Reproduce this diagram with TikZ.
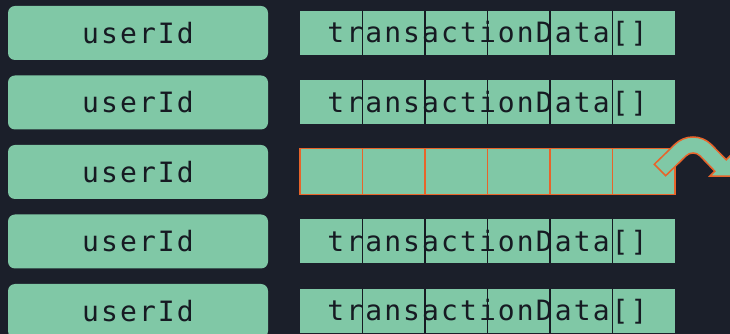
\documentclass[tikz,border=0pt]{standalone}
\usepackage{fontspec}
\usetikzlibrary{calc}
\newfontfamily\codefont[LetterSpace=7.5]{DejaVu Sans Mono}
\definecolor{bg}{HTML}{1B1F2A}
\definecolor{mint}{HTML}{80C8A6}
\definecolor{ink}{HTML}{161A22}
\definecolor{hot}{HTML}{E8642A}
\begin{document}
\begin{tikzpicture}[x=1pt,y=1pt,
  codetext/.style={font=\fontsize{28}{32}\selectfont\codefont, text=ink},
  keybox/.style={codetext, fill=mint, rounded corners=7pt, minimum width=260pt,
    minimum height=54pt, inner sep=0pt},
  cell/.style={fill=mint, minimum width=62.5pt, minimum height=44pt, inner sep=0pt, outer sep=0pt},
  hotcell/.style={cell, draw=hot, line width=1.8pt, minimum height=46pt},
  celltext/.style={codetext, inner sep=0pt, anchor=base},
  divider/.style={draw=ink, line width=1.1pt},
  jump/.style={fill=mint, draw=hot, line width=1.5pt, line join=miter}
]
% canvas
\fill[bg] (0,0) rectangle (730,334);
\useasboundingbox (0,0) rectangle (730,334);
\clip (0,0) rectangle (730,334);

% ordinary rows: key box and a six-slot array of transaction data
\foreach \r/\Y in {1/301, 2/231.5, 4/92.5, 5/23} {
  \node[keybox] (k\r) at (138,\Y) {userId};
  \foreach \j in {1,...,6}
    \node[cell] (c\r-\j) at (268.75+62.5*\j,\Y) {};
  \node[celltext] (d\r) at ($(c\r-3.east)+(0,-10)$) {transactionData[]};
  \foreach \j in {1,...,5}
    \draw[divider] (c\r-\j.north east) -- (c\r-\j.south east);
}

% highlighted row: empty slots outlined in orange
\node[keybox] (k3) at (138,162) {userId};
\foreach \j in {1,...,6}
  \node[hotcell] (c3-\j) at (268.75+62.5*\j,162.5) {};

% curved jump arrow leaving the highlighted array
\draw[jump] (654.3,169.7) -- (674.6,189.4)
  arc[start angle=135, end angle=45, radius=26]
  -- (726.2,174.2) -- (731.1,179.1) -- (731.1,157.9) -- (709.9,157.9)
  -- (714.8,162.8) -- (700.1,178.1)
  arc[start angle=45, end angle=135, radius=10]
  -- (665.7,158.3) -- cycle;
\end{tikzpicture}
\end{document}
